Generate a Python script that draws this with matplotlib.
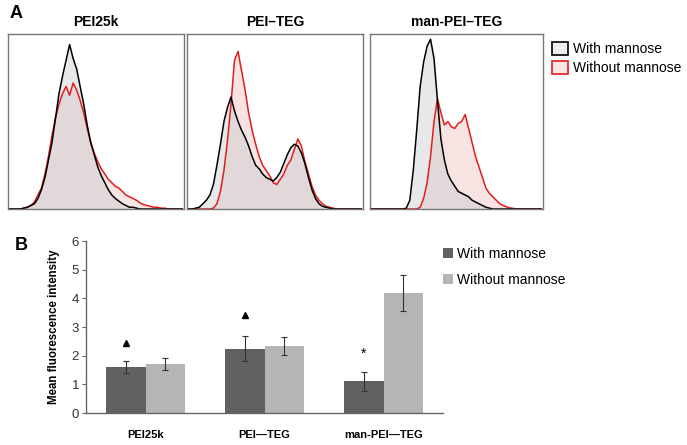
import numpy as np
import matplotlib
matplotlib.use("Agg")
import matplotlib.pyplot as plt
from matplotlib.patches import Patch

plt.rcParams['font.family'] = ['Liberation Sans', 'DejaVu Sans']

# --- panel A: histograms (50 bins, height as fraction of box) ---
hist_titles = ["PEI25k", "PEI\u2013TEG", "man-PEI\u2013TEG"]
with_mannose = [
    [0, 0, 0, 0, 0.005, 0.01, 0.02, 0.03, 0.06, 0.11, 0.18, 0.28, 0.38, 0.52, 0.66,
     0.76, 0.85, 0.94, 0.86, 0.80, 0.70, 0.60, 0.48, 0.38, 0.31, 0.24, 0.19, 0.15, 0.11, 0.08,
     0.06, 0.045, 0.03, 0.02, 0.01, 0.01, 0.005, 0, 0, 0, 0, 0, 0, 0, 0, 0, 0, 0, 0, 0],
    [0, 0, 0.005, 0.01, 0.03, 0.05, 0.08, 0.14, 0.25, 0.37, 0.5, 0.58, 0.64, 0.56, 0.5,
     0.45, 0.41, 0.36, 0.3, 0.25, 0.23, 0.2, 0.18, 0.17, 0.16, 0.18, 0.21, 0.26, 0.31, 0.35,
     0.37, 0.36, 0.32, 0.26, 0.18, 0.11, 0.06, 0.03, 0.015, 0.01, 0.005, 0, 0, 0, 0, 0, 0, 0, 0, 0],
    [0, 0, 0, 0, 0, 0, 0, 0, 0, 0, 0.005, 0.05, 0.22, 0.45, 0.7,
     0.84, 0.93, 0.97, 0.86, 0.62, 0.4, 0.28, 0.2, 0.16, 0.13, 0.1, 0.09, 0.08, 0.07, 0.05,
     0.04, 0.03, 0.02, 0.01, 0.005, 0, 0, 0, 0, 0, 0, 0, 0, 0, 0, 0, 0, 0, 0, 0],
]
without_mannose = [
    [0, 0, 0, 0, 0.005, 0.01, 0.02, 0.04, 0.08, 0.12, 0.2, 0.3, 0.42, 0.52, 0.6,
     0.66, 0.7, 0.65, 0.72, 0.68, 0.62, 0.55, 0.46, 0.38, 0.32, 0.27, 0.23, 0.2, 0.17, 0.15,
     0.13, 0.12, 0.1, 0.08, 0.07, 0.06, 0.05, 0.035, 0.025, 0.02, 0.015, 0.01, 0.01, 0.005, 0.005,
     0, 0, 0, 0, 0],
    [0, 0, 0, 0, 0, 0, 0, 0.005, 0.03, 0.1, 0.22, 0.39, 0.6, 0.85, 0.9,
     0.79, 0.68, 0.55, 0.45, 0.37, 0.3, 0.25, 0.22, 0.19, 0.15, 0.14, 0.17, 0.2, 0.25, 0.28,
     0.34, 0.4, 0.36, 0.27, 0.2, 0.13, 0.08, 0.05, 0.03, 0.015, 0.01, 0.005, 0, 0, 0, 0, 0, 0, 0, 0],
    [0, 0, 0, 0, 0, 0, 0, 0, 0, 0, 0, 0, 0, 0, 0.01, 0.06, 0.15, 0.3, 0.5, 0.63,
     0.55, 0.48, 0.5, 0.47, 0.46, 0.49, 0.5, 0.54, 0.46, 0.38, 0.3, 0.24, 0.18, 0.12, 0.09,
     0.07, 0.05, 0.03, 0.02, 0.012, 0.006, 0.003, 0, 0, 0, 0, 0, 0, 0, 0],
]

# --- panel B: bar chart ---
groups = ["PEI25k", "PEI\u2014TEG", "man-PEI\u2014TEG"]
mfi_with = [1.6, 2.25, 1.1]
err_with = [0.22, 0.43, 0.32]
mfi_without = [1.7, 2.33, 4.18]
err_without = [0.21, 0.32, 0.63]
triangle_y = [2.44, 3.42]
star_y = 2.05

W, H = 687, 445
fig = plt.figure(figsize=(W / 100, H / 100), dpi=100)


def box(x0, y0, x1, y1):
    return [x0 / W, 1 - y1 / H, (x1 - x0) / W, (y1 - y0) / H]


centers = (np.arange(50) + 0.5) / 50
hist_boxes = [(8, 34, 184, 209), (187, 34, 363, 209), (370, 34, 543, 209)]
for k, b in enumerate(hist_boxes):
    ax = fig.add_axes(box(*b))
    ax.fill_between(centers, without_mannose[k], color="#f4cccc", alpha=0.55, lw=0)
    ax.fill_between(centers, with_mannose[k], color="#c8ccd0", alpha=0.45, lw=0)
    ax.plot(centers, without_mannose[k], color="#e01e1e", lw=1.1)
    ax.plot(centers, with_mannose[k], color="black", lw=1.1)
    ax.set_xlim(0, 1)
    ax.set_ylim(0, 1.0)
    ax.set_xticks([])
    ax.set_yticks([])
    for s in ax.spines.values():
        s.set_color("#777777")
        s.set_linewidth(1)
    ax.set_title(hist_titles[k], fontsize=10, fontweight="bold", pad=6)

fig.text(10 / W, 1 - 14 / H, "A", fontsize=13, fontweight="bold", va="center", ha="left")
fig.text(15 / W, 1 - 245 / H, "B", fontsize=13, fontweight="bold", va="center", ha="left")

leg_a = [Patch(facecolor="#eceeef", edgecolor="black", lw=1.2, label="With mannose"),
         Patch(facecolor="#fbe6e6", edgecolor="#e01e1e", lw=1.2, label="Without mannose")]
fig.legend(handles=leg_a, loc="upper left", bbox_to_anchor=(552 / W, 1 - 42 / H),
           frameon=False, fontsize=10, handlelength=1.15, handleheight=1.1,
           handletextpad=0.35, labelspacing=0.3, borderpad=0, borderaxespad=0)

# bar chart
axb = fig.add_axes(box(86, 241, 443, 413))
x = np.arange(len(groups))
bw = 0.33
b1 = axb.bar(x - bw / 2, mfi_with, bw, color="#616161", label="With mannose")
b2 = axb.bar(x + bw / 2, mfi_without, bw, color="#b5b5b5", label="Without mannose")
axb.errorbar(x - bw / 2, mfi_with, yerr=err_with, fmt="none", ecolor="#333333",
             elinewidth=0.8, capsize=2.5, capthick=0.8)
axb.errorbar(x + bw / 2, mfi_without, yerr=err_without, fmt="none", ecolor="#333333",
             elinewidth=0.8, capsize=2.5, capthick=0.8)
axb.plot(x[:2] - bw / 2, triangle_y, "^", color="black", ms=5)
axb.text(x[2] - bw / 2, star_y, "*", ha="center", va="center", fontsize=10)
axb.set_xlim(-0.5, 2.5)
axb.set_ylim(0, 6)
axb.set_yticks(range(7))
axb.set_xticks(x)
axb.set_xticklabels(groups, fontsize=8, fontweight="bold")
axb.tick_params(axis="x", length=0, pad=12)
axb.tick_params(axis="y", length=3, width=0.8, color="#666666", labelsize=9.5,
                labelcolor="#333333", pad=2)
axb.set_ylabel("Mean fluorescence intensity", fontsize=8.3, fontweight="bold", labelpad=8)
for s in ["top", "right"]:
    axb.spines[s].set_visible(False)
for s in ["left", "bottom"]:
    axb.spines[s].set_color("#666666")
    axb.spines[s].set_linewidth(1)

fig.legend(handles=[b1, b2], loc="upper left", bbox_to_anchor=(443 / W, 1 - 247 / H),
           frameon=False, fontsize=10, handlelength=0.7, handleheight=0.7,
           handletextpad=0.3, labelspacing=0.85, borderpad=0, borderaxespad=0)

fig.savefig("out.png", dpi=100)
